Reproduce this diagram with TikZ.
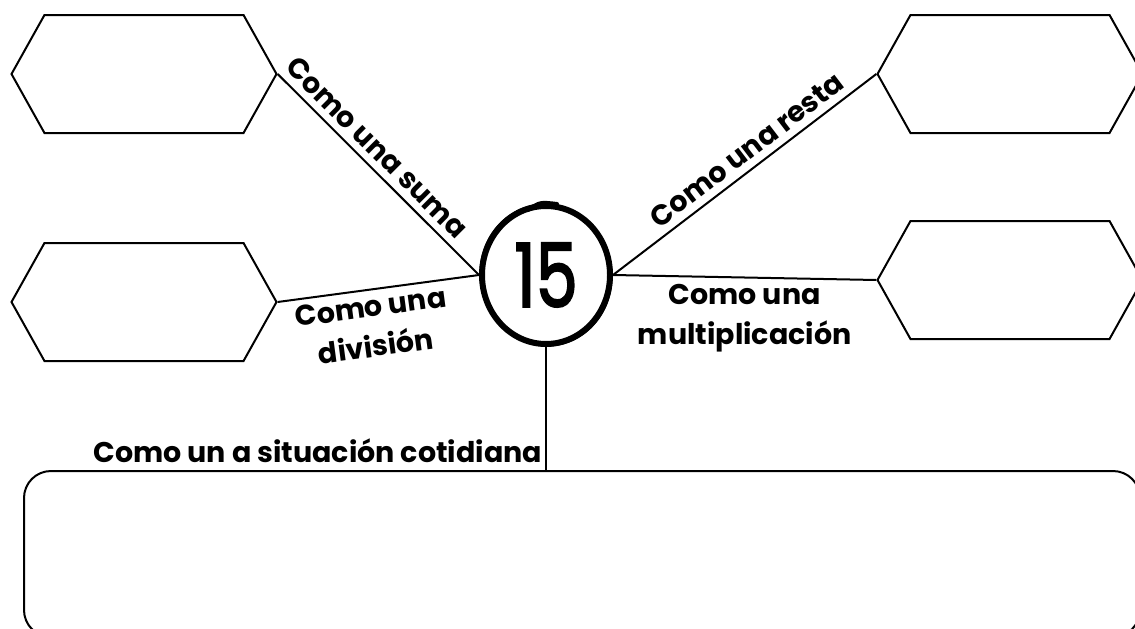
\documentclass[tikz,border=0pt]{standalone}
\usepackage{fontspec}
\setmainfont{Poppins}
\newfontface\numfont{Poppins}[FakeBold=2.5]
\usetikzlibrary{shapes.geometric,shapes.symbols}

\begin{document}
\begin{tikzpicture}[x=1pt,y=-1pt,
	hexbox/.style={draw, line width=2pt, signal, signal to=east and west, signal pointer angle=121.6, minimum width=265pt, minimum height=118pt, inner sep=0pt},
	link/.style={line width=2pt},
	lbl/.style={font=\bfseries\fontsize{28.5}{40}\selectfont, inner sep=2pt, align=center}]
	\useasboundingbox (0,0) rectangle (1135,629);
	\clip (0,0) rectangle (1135,629);
	% the four empty boxes
	\node[hexbox] (suma) at (144,74) {};
	\node[hexbox] (division) at (144,302) {};
	\node[hexbox] (resta) at (1010,74) {};
	\node[hexbox] (multi) at (1010,280) {};
	\node[draw, line width=2pt, rounded corners=27pt, minimum width=1116pt, minimum height=166pt] (box) at (582,554) {};
	% the number in its brush circle
	\node[draw, ellipse, line width=6pt, minimum width=128pt, minimum height=138pt, font=\numfont\fontsize{88}{88}\selectfont] (num) at (546,275) {\scalebox{0.76}[1]{15}};
	\draw[line width=1.2pt] (num.center) ellipse [x radius=66, y radius=71, rotate=6];
	\draw[line width=1pt] (num.center) ellipse [x radius=62.5, y radius=68, rotate=-5];
	\draw[line width=4pt, line cap=round] (528,210) .. controls (540,202) .. (557,204);
	% connectors
	\draw[link] (suma.east) -- node[lbl, sloped, above=5pt, pos=0.43] {Como una suma} (num.west);
	\draw[link] (division.east) -- node[lbl, sloped, below=4pt, pos=0.45] {Como una\\división} (num.west);
	\draw[link] (num.east) -- node[lbl, sloped, above=5pt, pos=0.55] {Como una resta} (resta.west);
	\draw[link] (num.east) -- node[lbl, below=4pt] {Como una\\multiplicación} (multi.west);
	\draw[link] (num.south) -- node[lbl, pos=1, anchor=base east, yshift=8pt, xshift=-1pt] {Como un a situación cotidiana} (num.south |- box.north);
\end{tikzpicture}
\end{document}
